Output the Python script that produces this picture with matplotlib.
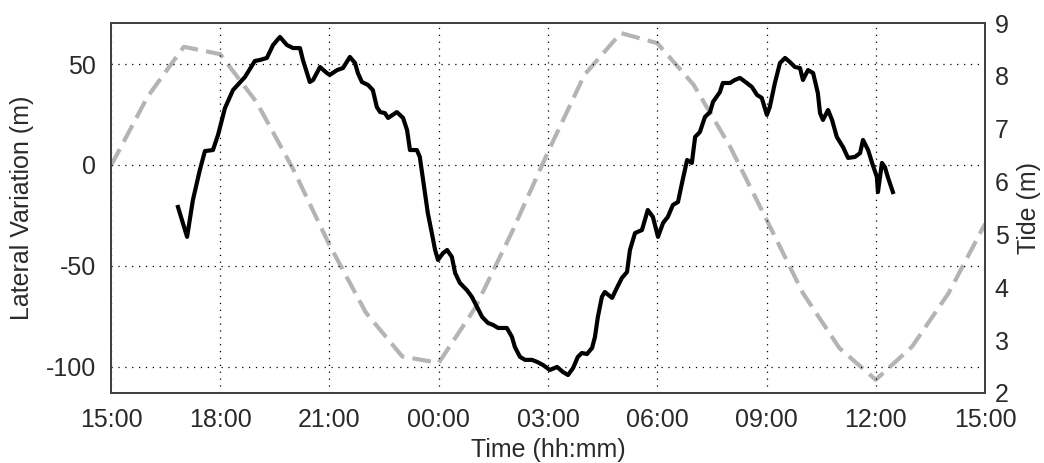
import numpy as np
import matplotlib.pyplot as plt

plt.rcParams['font.family'] = ['Liberation Sans', 'DejaVu Sans']
plt.rcParams['axes.unicode_minus'] = False

# hours after 15:00
tide_hours = list(range(0, 25))
tide_m = [6.3, 7.6, 8.55, 8.41, 7.5, 6.24, 4.80, 3.52, 2.69, 2.57, 3.61, 5.03,
          6.56, 8.02, 8.81, 8.62, 7.83, 6.66, 5.28, 3.89, 2.85, 2.25, 2.88, 3.89, 5.2]

lat_hours = [1.84, 2.09, 2.25, 2.44, 2.58, 2.80, 2.94, 3.13, 3.35, 3.68, 3.95, 4.09,
             4.28, 4.45, 4.64, 4.83, 5.00, 5.19, 5.27, 5.46, 5.55, 5.74, 5.93, 6.01,
             6.21, 6.37, 6.56, 6.70, 6.78, 6.89, 7.06, 7.19, 7.30, 7.39, 7.52, 7.61,
             7.85, 8.02, 8.13, 8.21, 8.40, 8.48, 8.57, 8.70, 8.81, 8.90, 8.98, 9.12,
             9.23, 9.36, 9.45, 9.58, 9.77, 9.91, 10.05, 10.19, 10.35, 10.49, 10.63,
             10.87, 11.01, 11.09, 11.23, 11.37, 11.56, 11.70, 11.86, 12.05, 12.25,
             12.41, 12.55, 12.69, 12.82, 12.93, 13.07, 13.21, 13.29, 13.37, 13.48,
             13.56, 13.76, 13.89, 14.03, 14.17, 14.25, 14.39, 14.58, 14.74, 14.88,
             15.02, 15.16, 15.29, 15.43, 15.57, 15.68, 15.82, 15.95, 16.04, 16.17,
             16.31, 16.45, 16.53, 16.72, 16.80, 17.00, 17.13, 17.27, 17.46, 17.60,
             17.74, 17.87, 18.01, 18.09, 18.23, 18.37, 18.51, 18.64, 18.78, 18.92,
             19.00, 19.14, 19.28, 19.41, 19.47, 19.55, 19.69, 19.80, 19.93, 20.10,
             20.24, 20.43, 20.57, 20.65, 20.79, 20.90, 21.03, 21.06, 21.17, 21.25,
             21.33, 21.47]
lat_m = [-20.8, -35.6, -17.3, -2.5, 6.9, 7.4, 14.9, 28.2, 37.1, 43.6, 51.5, 52.0,
         53.0, 59.4, 63.4, 59.4, 57.9, 57.9, 52.0, 41.1, 42.1, 48.5, 45.5, 44.6,
         47.0, 48.0, 53.5, 50.5, 45.5, 41.1, 39.6, 37.1, 28.7, 26.2, 25.7, 23.3,
         26.2, 23.3, 17.3, 7.4, 7.4, 4.0, -7.4, -23.8, -33.7, -42.1, -47.0, -43.6,
         -42.1, -45.5, -53.5, -58.4, -61.9, -65.3, -70.3, -75.2, -78.2, -79.2, -80.7,
         -80.7, -85.1, -90.1, -95.0, -96.5, -96.5, -97.5, -99.0, -101.5, -100.0,
         -102.5, -104.0, -100.5, -95.0, -93.1, -93.6, -90.6, -85.1, -75.2, -65.3,
         -62.9, -65.8, -60.9, -55.9, -53.0, -42.1, -33.7, -32.2, -22.3, -25.7,
         -35.6, -28.7, -25.7, -19.8, -18.3, -8.9, 2.5, 1.0, 13.9, 16.3,
         23.8, 26.2, 31.2, 36.1, 40.6, 40.6, 42.1, 43.1, 40.6, 38.6,
         34.7, 33.2, 24.8, 28.7, 40.6, 50.5, 53.0, 51.0, 48.5, 48.0,
         42.1, 47.0, 45.5, 35.6, 25.7, 22.3, 27.2, 22.3, 13.9, 8.9,
         3.5, 4.0, 5.9, 12.4, 7.4, 1.0, -5.9, -13.4, 1.0, -1.0,
         -5.9, -13.4]

x_ticks = [0, 3, 6, 9, 12, 15, 18, 21, 24]
x_labels = ['15:00', '18:00', '21:00', '00:00', '03:00', '06:00', '09:00', '12:00', '15:00']

txt = '#2a2a2a'
fig = plt.figure(figsize=(10.44, 4.63), dpi=100)
ax = fig.add_axes([0.1063, 0.1512, 0.8372, 0.7991])
ax2 = ax.twinx()

ax2.plot(tide_hours, tide_m, color='#b4b4b4', lw=3, dashes=(4.5, 2))
ax2.set_ylim(2, 9)
ax2.set_yticks(range(2, 10))
ax2.set_ylabel('Tide (m)', fontsize=18, color=txt, labelpad=6)
ax2.tick_params(axis='y', length=0, pad=7, labelsize=18, labelcolor=txt)

ax.set_zorder(ax2.get_zorder() + 1)
ax.patch.set_visible(False)
ax.plot(lat_hours, lat_m, color='black', lw=3, solid_joinstyle='round')
ax.set_xlim(0, 24)
ax.set_ylim(-112.9, 70.3)
ax.set_yticks([-100, -50, 0, 50])
ax.set_xticks(x_ticks)
ax.set_xticklabels(x_labels)
ax.tick_params(length=0, pad=11, labelsize=18, labelcolor=txt)
ax.grid(True, color='black', linestyle=(0, (1, 4.5)), lw=0.9)
ax.set_xlabel('Time (hh:mm)', fontsize=18, color=txt, labelpad=4)
ax.set_ylabel('Lateral Variation (m)', fontsize=18, color=txt, labelpad=8)

for a in (ax, ax2):
    for s in a.spines.values():
        s.set_color('#404040')
        s.set_linewidth(1.3)

fig.savefig('out.png', dpi=100)
